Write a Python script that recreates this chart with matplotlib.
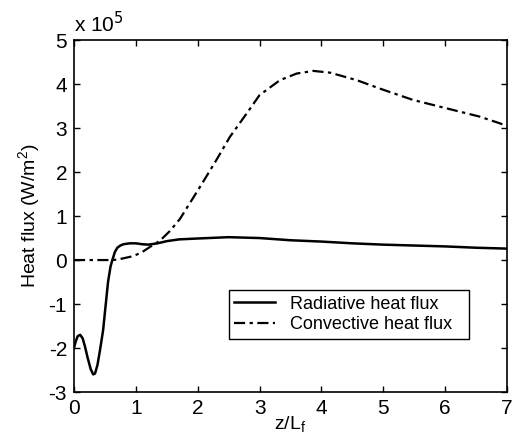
import matplotlib
matplotlib.use("Agg")
import matplotlib.pyplot as plt

plt.rcParams["font.family"] = ["Liberation Sans", "DejaVu Sans"]
plt.rcParams["axes.unicode_minus"] = False

# heat flux in units of 1e5 W/m^2
rad_z = [0, 0.03, 0.06, 0.1, 0.14, 0.18, 0.22, 0.27, 0.31, 0.34, 0.38, 0.42,
         0.47, 0.51, 0.55, 0.59, 0.62, 0.66, 0.7, 0.75, 0.8, 0.9, 1.0, 1.1,
         1.2, 1.35, 1.5, 1.7, 2.0, 2.5, 3.0, 3.5, 4.0, 4.5, 5.0, 5.5, 6.0,
         6.5, 7.0]
rad_q = [-2.0, -1.84, -1.73, -1.7, -1.78, -1.98, -2.22, -2.48, -2.6, -2.58,
         -2.38, -2.05, -1.6, -1.05, -0.5, -0.15, 0.0, 0.18, 0.28, 0.33, 0.36,
         0.38, 0.38, 0.36, 0.35, 0.38, 0.43, 0.47, 0.49, 0.52, 0.5, 0.45,
         0.42, 0.38, 0.35, 0.33, 0.31, 0.28, 0.26]

conv_z = [0, 0.3, 0.6, 0.7, 0.8, 0.96, 1.1, 1.23, 1.39, 1.55, 1.71, 2.04, 2.3,
          2.52, 2.79, 3.0, 3.33, 3.6, 3.87, 4.14, 4.57, 4.94, 5.48, 6.02,
          6.56, 6.88, 7.0]
conv_q = [0, 0, 0, 0.01, 0.04, 0.09, 0.18, 0.30, 0.44, 0.66, 0.93, 1.67, 2.27,
          2.80, 3.33, 3.75, 4.09, 4.24, 4.30, 4.26, 4.09, 3.90, 3.64, 3.45,
          3.26, 3.11, 3.05]

fig = plt.figure(figsize=(5.15, 4.36), dpi=100)
ax = fig.add_axes([0.1437, 0.1009, 0.8408, 0.8071])

ax.plot(rad_z, rad_q, color="black", lw=1.8, label="Radiative heat flux")
ax.plot(conv_z, conv_q, color="black", lw=1.6, ls=(0, (5, 2, 1.5, 2)),
        label="Convective heat flux")

ax.set_xlim(0, 7)
ax.set_ylim(-3, 5)
ax.set_xticks(range(0, 8))
ax.set_yticks(range(-3, 6))
ax.tick_params(direction="in", top=True, right=True, length=4,
               labelsize=15, width=1, pad=5)
for s in ax.spines.values():
    s.set_linewidth(1.2)

ax.text(0.0, 1.012, r"x 10$^5$", transform=ax.transAxes, fontsize=15,
        ha="left", va="bottom")
ax.set_xlabel(r"z/L$_\mathregular{f}$", fontsize=14, labelpad=-2)
ax.set_ylabel(r"Heat flux (W/m$^\mathregular{2}$)", fontsize=14, labelpad=4)

leg = ax.legend(loc="lower left", bbox_to_anchor=(0.336, 0.126, 0.596, 0.17),
                mode="expand", fontsize=13, fancybox=False, framealpha=1,
                edgecolor="black", handlelength=2.3, borderpad=0.3,
                labelspacing=0.2)
leg.get_frame().set_linewidth(1.0)

fig.savefig("out.png", dpi=100)
